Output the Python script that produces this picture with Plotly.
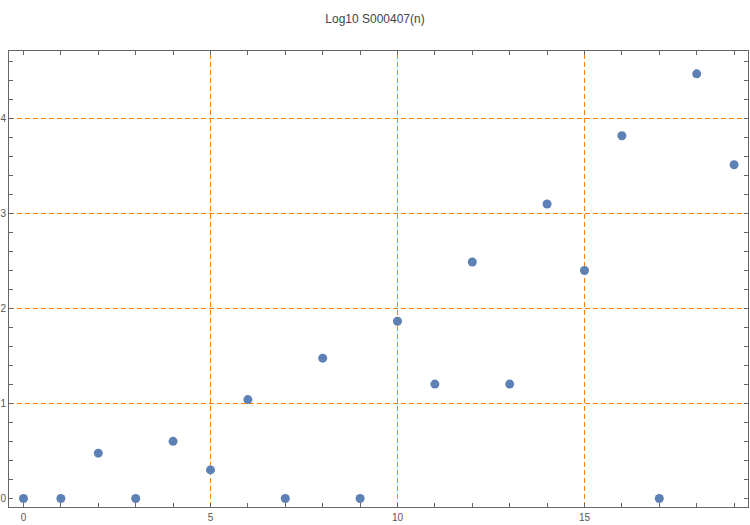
import plotly.graph_objects as go

n_values = list(range(20))
log_values = [0.0, 0.0, 0.477, 0.0, 0.602, 0.301, 1.041, 0.0, 1.477, 0.0,
              1.866, 1.204, 2.49, 1.204, 3.10, 2.40, 3.818, 0.0, 4.47, 3.513]
x_tick_vals = [0, 5, 10, 15]
y_tick_vals = [0, 1, 2, 3, 4]
grid_x = [5, 10, 15]
grid_y = [1, 2, 3, 4]

GRID = "#FF8000"
FRAME = "#666666"

fig = go.Figure()
fig.add_trace(go.Scatter(x=n_values, y=log_values, mode="markers",
                         marker=dict(color="#5E81B5", size=9), hoverinfo="x+y"))

shapes = []
for gx in grid_x:
    shapes.append(dict(type="line", xref="x", yref="paper", x0=gx, x1=gx, y0=0, y1=1,
                       line=dict(color=GRID, width=1, dash="5px,3px"), layer="below"))
for gy in grid_y:
    shapes.append(dict(type="line", xref="paper", yref="y", x0=0, x1=1, y0=gy, y1=gy,
                       line=dict(color=GRID, width=1, dash="5px,3px"), layer="below"))

axis_common = dict(showgrid=False, zeroline=False, showline=True, linecolor=FRAME,
                   linewidth=1, mirror="allticks", ticks="inside", ticklen=4,
                   tickcolor=FRAME, automargin=False,
                   tickfont=dict(family="Liberation Sans, Arial", size=10, color="#555555"))

fig.update_layout(
    width=750, height=525,
    margin=dict(l=9, r=2, t=51, b=18, autoexpand=False),
    paper_bgcolor="white", plot_bgcolor="white",
    showlegend=False,
    title=dict(text="Log10 S000407(n)", x=0.5, xanchor="center", y=0.964, yanchor="middle",
               font=dict(family="Liberation Sans, Arial", size=12, color="#444444")),
    shapes=shapes,
    xaxis=dict(range=[-0.3873, 19.3717], tickvals=x_tick_vals, ticklabelstandoff=1,
               minor=dict(dtick=1, ticks="inside", ticklen=4, tickcolor=FRAME), **axis_common),
    yaxis=dict(range=[-0.08947, 4.71053], tickvals=y_tick_vals, ticklabelstandoff=0,
               minor=dict(dtick=0.2, ticks="inside", ticklen=4, tickcolor=FRAME), **axis_common),
)

fig.write_html("out.html", config={"displayModeBar": False},
               post_script="document.body.style.margin='0';document.body.style.overflow='hidden';")
